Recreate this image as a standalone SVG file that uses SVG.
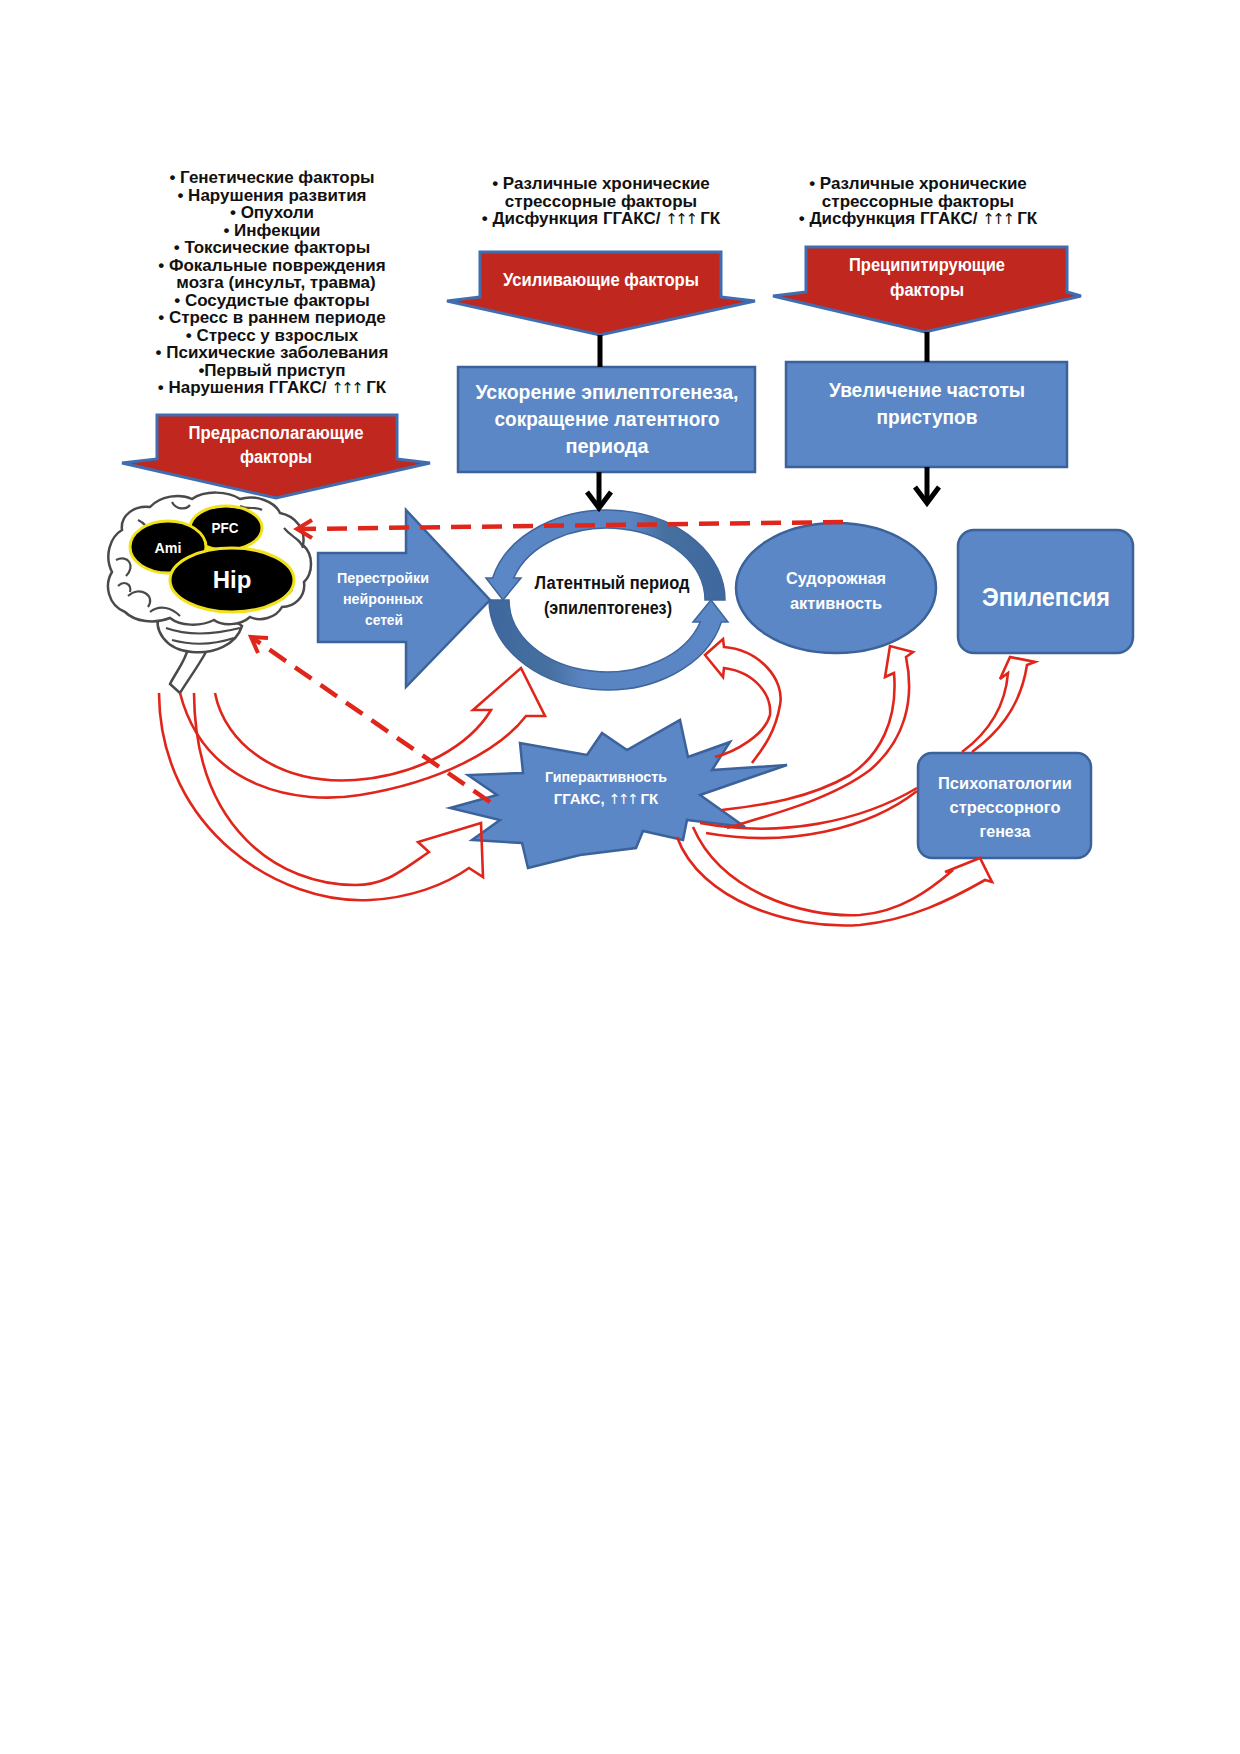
<svg xmlns="http://www.w3.org/2000/svg" width="1240" height="1754" viewBox="0 0 1240 1754">
<defs>
<style>
.bt{font-family:"Liberation Sans",Arial,sans-serif;font-weight:bold;font-size:17px;fill:#111;text-anchor:middle}
.wt{font-family:"Liberation Sans",Arial,sans-serif;font-weight:bold;fill:#fff;text-anchor:middle}
.kt{font-family:"Liberation Sans",Arial,sans-serif;font-weight:bold;fill:#111;text-anchor:middle}
.ar{font-family:"DejaVu Sans",sans-serif;font-weight:normal;letter-spacing:-2.5px}
.rb{fill:#c0271f;stroke:#3f6db0;stroke-width:3;stroke-linejoin:miter}
.bn{fill:#5b87c6;stroke:#3b629a;stroke-width:2.5}
.rl{fill:none;stroke:#e0261b;stroke-width:2.6;stroke-linejoin:miter}
.dl{fill:none;stroke:#e0261b;stroke-width:4.5;stroke-dasharray:20 11}
.dh{fill:none;stroke:#e0261b;stroke-width:4}
.bk{fill:none;stroke:#000;stroke-width:5}
.br{fill:#fff;stroke:#4a4a4a;stroke-width:2.5}
.gy{fill:none;stroke:#4a4a4a;stroke-width:2.2}
.el{fill:#000;stroke:#f2e21a;stroke-width:3}
</style>
<linearGradient id="ringG" x1="0" y1="0" x2="1" y2="0">
<stop offset="0" stop-color="#5b87c6"/>
<stop offset="0.6" stop-color="#5a85c3"/>
<stop offset="0.75" stop-color="#46709f"/>
<stop offset="1" stop-color="#3e689e"/>
</linearGradient>
</defs>

<rect width="1240" height="1754" fill="#fff"/>

<!-- Text lists -->
<g id="predisposing-list">
<text class="bt" x="272" y="183">• Генетические факторы</text>
<text class="bt" x="272" y="200.5">• Нарушения развития</text>
<text class="bt" x="272" y="218">• Опухоли</text>
<text class="bt" x="272" y="235.5">• Инфекции</text>
<text class="bt" x="272" y="253">• Токсические факторы</text>
<text class="bt" x="272" y="270.5">• Фокальные повреждения</text>
<text class="bt" x="276" y="288">мозга (инсульт, травма)</text>
<text class="bt" x="272" y="305.5">• Сосудистые факторы</text>
<text class="bt" x="272" y="323">• Стресс в раннем периоде</text>
<text class="bt" x="272" y="340.5">• Стресс у взрослых</text>
<text class="bt" x="272" y="358">• Психические заболевания</text>
<text class="bt" x="272" y="375.5">•Первый приступ</text>
<text class="bt" x="272" y="393">• Нарушения ГГАКС/ <tspan class="ar" font-size="15">↑↑↑</tspan> ГК</text>
</g>
<g id="enhancing-list">
<text class="bt" x="601" y="189">• Различные хронические</text>
<text class="bt" x="601" y="206.5">стрессорные факторы</text>
<text class="bt" x="601" y="224">• Дисфункция ГГАКС/ <tspan class="ar" font-size="15">↑↑↑</tspan> ГК</text>
</g>
<g id="precipitating-list">
<text class="bt" x="918" y="189">• Различные хронические</text>
<text class="bt" x="918" y="206.5">стрессорные факторы</text>
<text class="bt" x="918" y="224">• Дисфункция ГГАКС/ <tspan class="ar" font-size="15">↑↑↑</tspan> ГК</text>
</g>

<!-- Red block arrows -->
<g id="predisposing-factors">
<polygon class="rb" points="157,415 397,415 397,459 430,463 276,498 122,463 157,459"/>
<text class="wt" x="276" y="439" font-size="18" textLength="175" lengthAdjust="spacingAndGlyphs">Предрасполагающие</text>
<text class="wt" x="276" y="463" font-size="18" textLength="72" lengthAdjust="spacingAndGlyphs">факторы</text>
</g>
<g id="enhancing-factors">
<polygon class="rb" points="480,252 721,252 721,297 755,301 600,335 447,301 480,297"/>
<text class="wt" x="601" y="286" font-size="18" textLength="196" lengthAdjust="spacingAndGlyphs">Усиливающие факторы</text>
</g>
<g id="precipitating-factors">
<polygon class="rb" points="806,247 1067,247 1067,292 1081,296 925,332 773,296 806,292"/>
<text class="wt" x="927" y="271" font-size="18" textLength="156" lengthAdjust="spacingAndGlyphs">Преципитирующие</text>
<text class="wt" x="927" y="296" font-size="18" textLength="74" lengthAdjust="spacingAndGlyphs">факторы</text>
</g>

<!-- Blue boxes -->
<g id="acceleration">
<rect class="bn" x="458" y="367" width="297" height="105"/>
<text class="wt" x="607" y="399" font-size="21" textLength="263" lengthAdjust="spacingAndGlyphs">Ускорение эпилептогенеза,</text>
<text class="wt" x="607" y="426" font-size="21" textLength="225" lengthAdjust="spacingAndGlyphs">сокращение латентного</text>
<text class="wt" x="607" y="453" font-size="21" textLength="83" lengthAdjust="spacingAndGlyphs">периода</text>
</g>
<g id="frequency">
<rect class="bn" x="786" y="362" width="281" height="105"/>
<text class="wt" x="927" y="397" font-size="21" textLength="196" lengthAdjust="spacingAndGlyphs">Увеличение частоты</text>
<text class="wt" x="927" y="424" font-size="21" textLength="101" lengthAdjust="spacingAndGlyphs">приступов</text>
</g>

<!-- Brain -->
<g id="brain">
<path class="br" d="M 188,648 C 186,660 176,672 170,684 L 180,693 C 188,680 197,668 206,652 Z"/>
<path class="br" d="M 160,612 C 152,630 166,650 192,652 C 214,654 236,645 242,626 C 230,616 190,612 160,612 Z"/>
<path class="gy" d="M 166,628 C 188,636 216,634 240,628"/>
<path class="gy" d="M 172,640 C 194,646 216,644 234,638"/>
<path class="br" d="M 125,612 C 108,605 104,585 112,572 C 104,556 110,537 122,530 C 120,515 135,505 150,507 C 160,496 180,493 192,499 C 205,490 228,491 240,499 C 256,494 275,502 280,513 C 296,516 306,530 303,545 C 314,555 313,573 304,582 C 306,597 294,607 282,607 C 276,618 260,622 250,617 C 240,626 222,626 214,620 C 200,627 180,626 170,618 C 155,624 135,622 125,612 Z"/>
<path class="gy" d="M 116,560 C 128,554 136,566 126,576"/>
<path class="gy" d="M 128,596 C 140,585 156,596 148,607"/>
<path class="gy" d="M 118,586 C 124,580 132,584 130,592"/>
<path class="gy" d="M 262,604 C 272,594 286,600 292,590"/>
<path class="gy" d="M 284,528 C 292,538 300,538 303,548"/>
<path class="gy" d="M 138,520 C 148,524 148,534 158,531"/>
<path class="gy" d="M 172,502 C 176,510 186,510 190,505"/>
<path class="gy" d="M 240,506 C 248,510 256,506 262,510"/>
<path class="gy" d="M 150,612 C 160,604 172,608 180,616"/>
<ellipse class="el" cx="226" cy="528" rx="36" ry="22"/>
<ellipse class="el" cx="168" cy="547" rx="38" ry="26"/>
<ellipse class="el" cx="232" cy="580" rx="62" ry="32"/>
<text class="wt" x="225" y="533" font-size="14" textLength="27" lengthAdjust="spacingAndGlyphs">PFC</text>
<text class="wt" x="168" y="553" font-size="15" textLength="27" lengthAdjust="spacingAndGlyphs">Ami</text>
<text class="wt" x="232" y="588" font-size="24">Hip</text>
</g>

<!-- Neural network rearrangement arrow -->
<g id="network-rearrangement">
<polygon class="bn" points="318,553 406,553 406,510 490,600 406,687 406,642 318,642"/>
<text class="wt" x="383" y="583" font-size="15" textLength="92" lengthAdjust="spacingAndGlyphs">Перестройки</text>
<text class="wt" x="383" y="604" font-size="15" textLength="80" lengthAdjust="spacingAndGlyphs">нейронных</text>
<text class="wt" x="384" y="625" font-size="15" textLength="38" lengthAdjust="spacingAndGlyphs">сетей</text>
</g>

<!-- Latent period ring -->
<g id="latent-period">
<path d="M725,600 A118,90 0 0 0 492.6,578 L486,578 L503,600 L521,578 L513.7,578 A98,72 0 0 1 705,600 Z" fill="url(#ringG)" stroke="#3e659c" stroke-width="1.5"/>
<path d="M725,600 A118,90 0 0 0 492.6,578 L486,578 L503,600 L521,578 L513.7,578 A98,72 0 0 1 705,600 Z" fill="url(#ringG)" stroke="#3e659c" stroke-width="1.5" transform="rotate(180 607 600)"/>
<text class="kt" x="612" y="589" font-size="18" textLength="155" lengthAdjust="spacingAndGlyphs">Латентный период</text>
<text class="kt" x="608" y="614" font-size="18" textLength="128" lengthAdjust="spacingAndGlyphs">(эпилептогенез)</text>
</g>

<!-- Seizure activity -->
<g id="seizure-activity">
<ellipse class="bn" cx="836" cy="588" rx="100" ry="65"/>
<text class="wt" x="836" y="584" font-size="17" textLength="100" lengthAdjust="spacingAndGlyphs">Судорожная</text>
<text class="wt" x="836" y="609" font-size="17" textLength="92" lengthAdjust="spacingAndGlyphs">активность</text>
</g>

<!-- Epilepsy -->
<g id="epilepsy">
<rect class="bn" x="958" y="530" width="175" height="123" rx="16"/>
<text class="wt" x="1046" y="606" font-size="25" textLength="128" lengthAdjust="spacingAndGlyphs">Эпилепсия</text>
</g>

<!-- Psychopathology -->
<g id="psychopathology">
<rect class="bn" x="918" y="753" width="173" height="105" rx="14"/>
<text class="wt" x="1005" y="789" font-size="17" textLength="134" lengthAdjust="spacingAndGlyphs">Психопатологии</text>
<text class="wt" x="1005" y="813" font-size="17" textLength="111" lengthAdjust="spacingAndGlyphs">стрессорного</text>
<text class="wt" x="1005" y="837" font-size="17" textLength="51" lengthAdjust="spacingAndGlyphs">генеза</text>
</g>

<!-- HPA hyperactivity starburst -->
<g id="hpa-hyperactivity">
<polygon class="bn" points="450,808 497,795 468,775 523,773 520,743 587,755 602,733 627,750 680,720 688,757 730,742 712,770 787,765 700,795 745,827 687,820 683,840 643,831 636,848 580,855 528,868 522,843 472,840 500,820"/>
<text class="wt" x="606" y="782" font-size="15" textLength="122" lengthAdjust="spacingAndGlyphs">Гиперактивность</text>
<text class="wt" x="606" y="804" font-size="15">ГГАКС, <tspan class="ar" font-size="14">↑↑↑</tspan> ГК</text>
</g>

<!-- Connectors -->
<g id="connectors">
<line class="bk" x1="600" y1="335" x2="600" y2="367"/>
<line class="bk" x1="927" y1="332" x2="927" y2="362"/>
<line class="bk" x1="599" y1="472" x2="599" y2="507"/>
<polyline class="bk" points="587,492 599,508 611,492" stroke-width="4.5"/>
<line class="bk" x1="927" y1="467" x2="927" y2="502"/>
<polyline class="bk" points="915,487 927,503 939,487" stroke-width="4.5"/>

<path class="rl" d="M180,693 C205,790 300,805 360,795 C440,782 500,750 526,716 L545,716 L521,668 L473,710 L491,710 C470,745 420,775 355,780 C280,785 225,745 215,693"/>
<path class="rl" d="M159,693 C160,830 280,905 370,900 C410,898 445,885 469,868 L483,877 L481,823 L418,842 L429,852 C400,872 385,885 355,885 C280,885 195,830 194,693"/>
<path class="rl" d="M752,763 C760,752 775,735 780,705 C785,680 760,650 724,647 L723,639 L705,655 L723,677 L724,668 C755,672 772,695 770,715 C765,735 735,752 715,757"/>
<path class="rl" d="M727,828 C770,815 830,800 870,770 C905,740 915,700 906,657 L913,652 L890,646 L885,677 L894,673 C898,720 880,755 850,775 C810,798 765,805 722,810"/>
<path class="rl" d="M700,823 C780,838 860,822 917,788"/>
<path class="rl" d="M706,833 C790,848 870,828 917,791"/>
<path class="rl" d="M962,752 C985,735 1005,710 1008,673 L1000,679 L1010,657 L1035,662 L1027,665 C1020,710 995,735 972,752"/>
<path class="rl" d="M677,837 C700,900 790,930 860,925 C910,920 950,900 985,880 L992,882 L980,858 L945,872 L953,870 C930,890 900,912 860,915 C800,918 720,890 693,827"/>

<line class="dl" x1="843" y1="522" x2="300" y2="529"/>
<polyline class="dh" points="312,520 297,529 312,538"/>
<line class="dl" x1="490" y1="802" x2="254" y2="639"/>
<polyline class="dh" points="268,638 251,637 258,653"/>
</g>
</svg>
